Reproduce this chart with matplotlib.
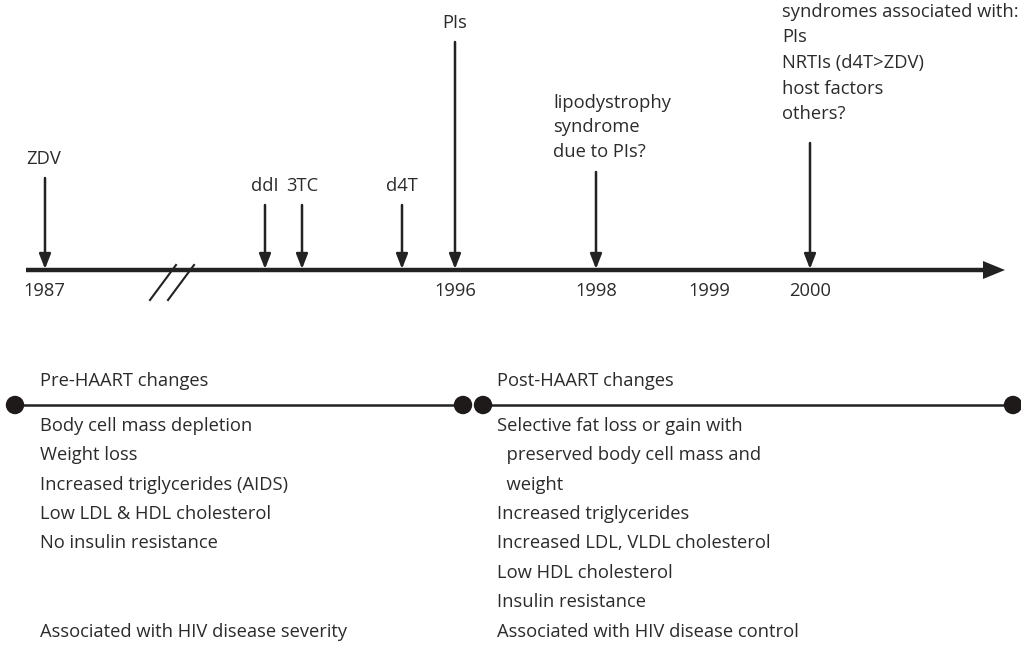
import matplotlib.pyplot as plt
from matplotlib.patches import Circle

# timeline data (x position along the axis, in figure pixels)
years = ['1987', '1996', '1998', '1999', '2000']
year_pos = [44, 455, 596, 709, 810]

drugs = ['ZDV', 'ddI', '3TC', 'd4T', 'PIs']
drug_pos = [45, 265, 302, 402, 455]
drug_top = [178, 205, 205, 205, 42]

notes = [['lipodystrophy', 'syndrome', 'due to PIs?'],
         ['syndromes associated with:', 'PIs', 'NRTIs (d4T>ZDV)', 'host factors', 'others?']]
note_pos = [596, 810]
note_top = [172, 143]

pre_items = ['Body cell mass depletion', 'Weight loss', 'Increased triglycerides (AIDS)',
             'Low LDL & HDL cholesterol', 'No insulin resistance']
post_items = ['Selective fat loss or gain with', '  preserved body cell mass and', '  weight',
              'Increased triglycerides', 'Increased LDL, VLDL cholesterol',
              'Low HDL cholesterol', 'Insulin resistance']

plt.rcParams['font.family'] = ['Open Sans', 'DejaVu Sans']
txt = '#2b2b2b'
ln = '#222222'
fs = 13.2

fig = plt.figure(figsize=(10.21, 6.45), dpi=100)
ax = fig.add_axes([0, 0, 1, 1])
ax.set_xlim(0, 1021)
ax.set_ylim(645, 0)
ax.axis('off')

# main axis with arrow head
ty = 270
ax.plot([26, 990], [ty, ty], color=ln, lw=3.2, solid_capstyle='butt')
ax.fill([983, 1005, 983], [261, 270, 279], color=ln, lw=0)

# break marks
for dx in [0, 18]:
    ax.plot([150 + dx, 176 + dx], [300, 265], color=ln, lw=1.5)

for y, x in zip(years, year_pos):
    ax.text(x, 291, y, ha='center', va='center', fontsize=fs, color=txt)

def down_arrow(x, top):
    ax.annotate('', xy=(x, ty - 1), xytext=(x, top),
                arrowprops=dict(arrowstyle='-|>,head_length=0.9,head_width=0.35',
                                color=ln, lw=1.8, shrinkA=0, shrinkB=0))

for d, x, t in zip(drugs, drug_pos, drug_top):
    down_arrow(x, t)
    lx = x if d != 'ZDV' else 44
    ax.text(lx, t - 19, d, ha='center', va='center', fontsize=fs, color=txt)

for lines, x, t in zip(notes, note_pos, note_top):
    down_arrow(x, t)
    n = len(lines)
    step = 24.5 if n == 3 else 25.5
    gap = 20 if n == 3 else 29
    for i, s in enumerate(lines):
        ax.text(x - 43 if n == 3 else x - 28, t - gap - (n - 1 - i) * step, s,
                ha='left', va='center', fontsize=fs, color=txt)

# pre / post HAART bars
by = 405
ax.plot([15, 463], [by, by], color=ln, lw=1.8)
ax.plot([483, 1013], [by, by], color=ln, lw=1.8)
for cx in [15, 463, 483, 1013]:
    ax.add_patch(Circle((cx, by), 8.5, color='#1e1a1a', zorder=3))

ax.text(40, 381, 'Pre-HAART changes', ha='left', va='center', fontsize=fs, color=txt)
ax.text(497, 381, 'Post-HAART changes', ha='left', va='center', fontsize=fs, color=txt)

row_y = [426, 455, 485, 514, 543, 573, 602]
for s, y in zip(pre_items, row_y):
    ax.text(40, y, s, ha='left', va='center', fontsize=fs, color=txt)
for s, y in zip(post_items, row_y):
    ax.text(497, y, s, ha='left', va='center', fontsize=fs, color=txt)

ax.text(40, 632, 'Associated with HIV disease severity', ha='left', va='center', fontsize=fs, color=txt)
ax.text(497, 632, 'Associated with HIV disease control', ha='left', va='center', fontsize=fs, color=txt)

fig.savefig('out.png', dpi=100)
